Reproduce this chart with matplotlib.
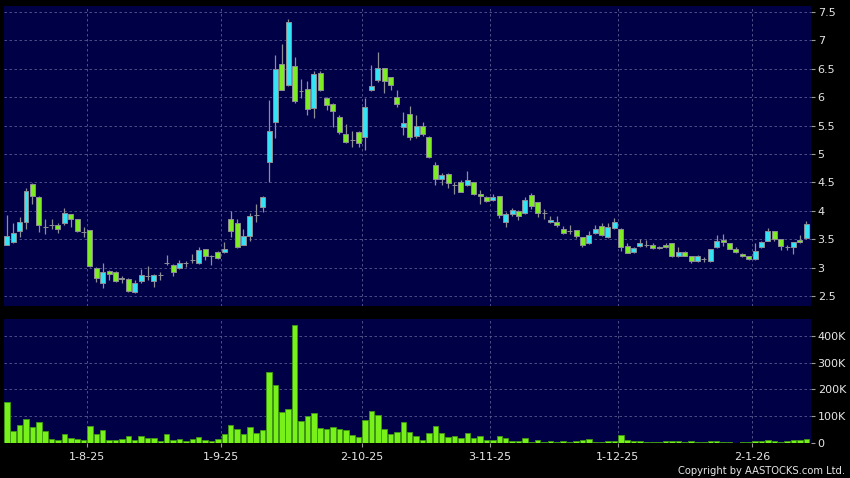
import numpy as np
import matplotlib
matplotlib.use("Agg")
import matplotlib.pyplot as plt
from matplotlib.ticker import FuncFormatter

# daily candles, mid-Jul 2025 .. 14-Jan-2026 (trading days only)
opens = [3.41, 3.45, 3.65, 3.80, 4.48, 4.25, 3.71, 3.75, 3.75, 3.78,
         3.94, 3.85, 3.63, 3.66, 3.00, 2.74, 2.95, 2.93, 2.83, 2.80,
         2.57, 2.77, 2.86, 2.77, 2.87, 3.08, 3.05, 2.99, 3.08, 3.14,
         3.09, 3.33, 3.21, 3.28, 3.28, 3.85, 3.78, 3.41, 3.56, 3.93,
         4.07, 4.86, 5.56, 6.59, 6.21, 6.55, 6.11, 6.14, 5.80, 6.42,
         5.99, 5.88, 5.65, 5.35, 5.24, 5.38, 5.30, 6.12, 6.30, 6.51,
         6.35, 6.01, 5.47, 5.70, 5.31, 5.50, 5.30, 4.80, 4.56, 4.65,
         4.45, 4.50, 4.45, 4.50, 4.30, 4.24, 4.19, 4.26, 3.80, 3.94,
         4.00, 3.97, 4.28, 4.15, 3.97, 3.80, 3.81, 3.69, 3.64, 3.66,
         3.54, 3.43, 3.61, 3.73, 3.54, 3.70, 3.69, 3.38, 3.28, 3.39,
         3.40, 3.40, 3.37, 3.40, 3.43, 3.20, 3.28, 3.20, 3.12, 3.15,
         3.12, 3.36, 3.49, 3.43, 3.34, 3.25, 3.20, 3.15, 3.36, 3.48,
         3.64, 3.50, 3.37, 3.36, 3.49, 3.52]
highs = [3.93, 3.78, 3.90, 4.41, 4.49, 4.27, 3.85, 3.85, 3.78, 4.06,
         3.95, 3.86, 3.71, 3.67, 3.01, 3.08, 2.96, 2.94, 2.86, 2.82,
         2.79, 2.98, 3.04, 2.89, 2.93, 3.23, 3.06, 3.14, 3.12, 3.25,
         3.36, 3.34, 3.22, 3.29, 3.45, 4.00, 3.85, 3.69, 3.97, 4.12,
         4.26, 5.95, 6.74, 6.94, 7.37, 6.70, 6.31, 6.28, 6.45, 6.45,
         6.00, 5.89, 5.69, 5.52, 5.40, 5.41, 5.98, 6.57, 6.79, 6.52,
         6.36, 6.13, 5.73, 5.85, 5.69, 5.56, 5.31, 4.86, 4.67, 4.66,
         4.50, 4.55, 4.70, 4.51, 4.37, 4.26, 4.30, 4.27, 3.98, 4.06,
         4.02, 4.25, 4.31, 4.16, 4.03, 3.92, 3.91, 3.73, 3.75, 3.67,
         3.55, 3.65, 3.75, 3.78, 3.78, 3.87, 3.70, 3.43, 3.36, 3.50,
         3.49, 3.44, 3.39, 3.44, 3.44, 3.36, 3.29, 3.21, 3.22, 3.19,
         3.34, 3.57, 3.60, 3.44, 3.36, 3.26, 3.21, 3.43, 3.48, 3.70,
         3.65, 3.51, 3.40, 3.46, 3.58, 3.82]
lows = [3.40, 3.43, 3.55, 3.68, 4.13, 3.63, 3.60, 3.68, 3.62, 3.75,
        3.72, 3.63, 3.54, 3.01, 2.76, 2.64, 2.79, 2.75, 2.74, 2.57,
        2.55, 2.73, 2.79, 2.66, 2.79, 3.05, 2.86, 2.98, 3.02, 3.08,
        3.06, 3.14, 3.05, 3.15, 3.27, 3.54, 3.35, 3.40, 3.48, 3.81,
        3.98, 4.50, 5.29, 6.12, 6.20, 5.89, 5.99, 5.68, 5.63, 6.10,
        5.77, 5.48, 5.35, 5.19, 5.12, 5.12, 5.07, 6.10, 6.27, 6.07,
        6.13, 5.83, 5.34, 5.24, 5.28, 5.31, 4.93, 4.45, 4.45, 4.40,
        4.29, 4.33, 4.44, 4.28, 4.12, 4.15, 4.18, 3.87, 3.72, 3.92,
        3.84, 3.95, 4.04, 3.90, 3.86, 3.79, 3.72, 3.60, 3.59, 3.52,
        3.37, 3.42, 3.60, 3.56, 3.53, 3.69, 3.30, 3.26, 3.27, 3.37,
        3.36, 3.33, 3.33, 3.35, 3.19, 3.19, 3.20, 3.09, 3.11, 3.10,
        3.11, 3.35, 3.38, 3.33, 3.27, 3.19, 3.13, 3.14, 3.35, 3.47,
        3.48, 3.31, 3.32, 3.25, 3.44, 3.51]
closes = [3.56, 3.61, 3.80, 4.35, 4.26, 3.76, 3.71, 3.75, 3.69, 3.96,
          3.85, 3.65, 3.63, 3.03, 2.83, 2.92, 2.90, 2.77, 2.81, 2.60,
          2.73, 2.88, 2.86, 2.88, 2.87, 3.09, 2.93, 3.08, 3.08, 3.14,
          3.32, 3.21, 3.21, 3.18, 3.34, 3.65, 3.36, 3.56, 3.92, 3.93,
          4.24, 5.41, 6.49, 6.13, 7.32, 5.94, 6.11, 5.79, 6.40, 6.12,
          5.86, 5.76, 5.38, 5.21, 5.24, 5.19, 5.83, 6.20, 6.51, 6.29,
          6.22, 5.88, 5.54, 5.30, 5.50, 5.35, 4.94, 4.56, 4.63, 4.49,
          4.45, 4.34, 4.54, 4.29, 4.26, 4.18, 4.25, 3.93, 3.94, 4.01,
          3.91, 4.19, 4.08, 3.96, 3.97, 3.84, 3.76, 3.61, 3.64, 3.56,
          3.41, 3.58, 3.68, 3.58, 3.71, 3.80, 3.37, 3.27, 3.35, 3.43,
          3.40, 3.35, 3.35, 3.36, 3.20, 3.28, 3.21, 3.12, 3.20, 3.15,
          3.33, 3.47, 3.46, 3.34, 3.28, 3.20, 3.15, 3.30, 3.45, 3.64,
          3.50, 3.38, 3.37, 3.45, 3.45, 3.77]
# volume in thousands of shares
volumes = [152, 47, 67, 92, 61, 79, 45, 15, 12, 35,
           19, 15, 14, 63, 33, 48, 11, 14, 16, 27,
           14, 26, 19, 20, 10, 36, 12, 16, 10, 15,
           25, 11, 7, 16, 36, 67, 53, 36, 62, 38,
           48, 266, 216, 118, 126, 439, 83, 102, 113, 56,
           52, 61, 52, 50, 32, 24, 88, 119, 105, 55,
           35, 41, 79, 43, 28, 12, 37, 63, 37, 22,
           27, 19, 40, 21, 26, 11, 11, 28, 20, 7,
           7, 20, 5, 11, 6, 9, 6, 9, 4, 7,
           14, 15, 6, 6, 9, 10, 30, 11, 9, 7,
           5, 5, 5, 7, 10, 10, 5, 9, 6, 6,
           7, 7, 5, 4, 2, 4, 6, 7, 7, 14,
           7, 6, 9, 11, 11, 15]

date_idx = [13, 34, 56, 76, 96, 117]
date_labels = ['1-8-25', '1-9-25', '2-10-25', '3-11-25', '1-12-25', '2-1-26']
price_ticks = [2.5, 3, 3.5, 4, 4.5, 5, 5.5, 6, 6.5, 7, 7.5]
vol_ticks = [0, 100, 200, 300, 400]

bg = '#000046'
up_col = '#35e4f4'
dn_col = '#7eec22'
edge = '#8e8e96'
grid_col = '#5c5c92'
txt = '#e6e6e6'

o = np.array(opens)
c = np.array(closes)
x = np.arange(len(o))

fig = plt.figure(figsize=(8.5, 4.78), dpi=100, facecolor='black')
ax1 = fig.add_axes([0.0047, 0.3598, 0.9491, 0.6276], facecolor=bg)
ax2 = fig.add_axes([0.0047, 0.0726, 0.9491, 0.2600], facecolor=bg)

# candles
ax1.vlines(x, lows, highs, color=edge, linewidth=0.9, zorder=2)
cols = [up_col if cc > oo else dn_col for oo, cc in zip(o, c)]
ax1.bar(x, np.abs(c - o), bottom=np.minimum(o, c), width=0.78,
        color=cols, edgecolor=edge, linewidth=0.7, zorder=3)

# volume
ax2.bar(x, volumes, width=0.86, color='#78f01a', edgecolor='#3f9a12',
        linewidth=0.6, zorder=3)

xt = [d - 0.5 for d in date_idx]
for ax in (ax1, ax2):
    ax.set_xlim(-0.44, 125.7)
    ax.set_xticks(xt)
    ax.grid(True, color=grid_col, linestyle=(0, (3, 3)), linewidth=0.6, zorder=0)
    ax.set_axisbelow(True)
    for s in ax.spines.values():
        s.set_visible(False)
    ax.yaxis.tick_right()
    ax.tick_params(axis='y', colors='#9a9a9a', labelcolor=txt, length=3,
                   width=0.8, pad=2, labelsize=8)
    ax.tick_params(axis='x', colors='#9a9a9a', labelcolor=txt, length=3,
                   width=0.8, pad=3, labelsize=8)

ax1.set_ylim(2.33, 7.6)
ax1.set_yticks(price_ticks)
ax1.yaxis.set_major_formatter(FuncFormatter(lambda v, p: ('%g' % v)))
ax1.tick_params(axis='x', length=0, labelbottom=False)

ax2.set_ylim(0, 462)
ax2.set_yticks(vol_ticks)
ax2.yaxis.set_major_formatter(FuncFormatter(lambda v, p: '0' if v == 0 else '%dK' % v))
ax2.set_xticklabels(date_labels)

fig.text(0.994, 0.0136, 'Copyright by AASTOCKS.com Ltd.', color=txt,
         fontsize=7.2, ha='right', va='center')

fig.savefig('out.png', dpi=100, facecolor='black')
